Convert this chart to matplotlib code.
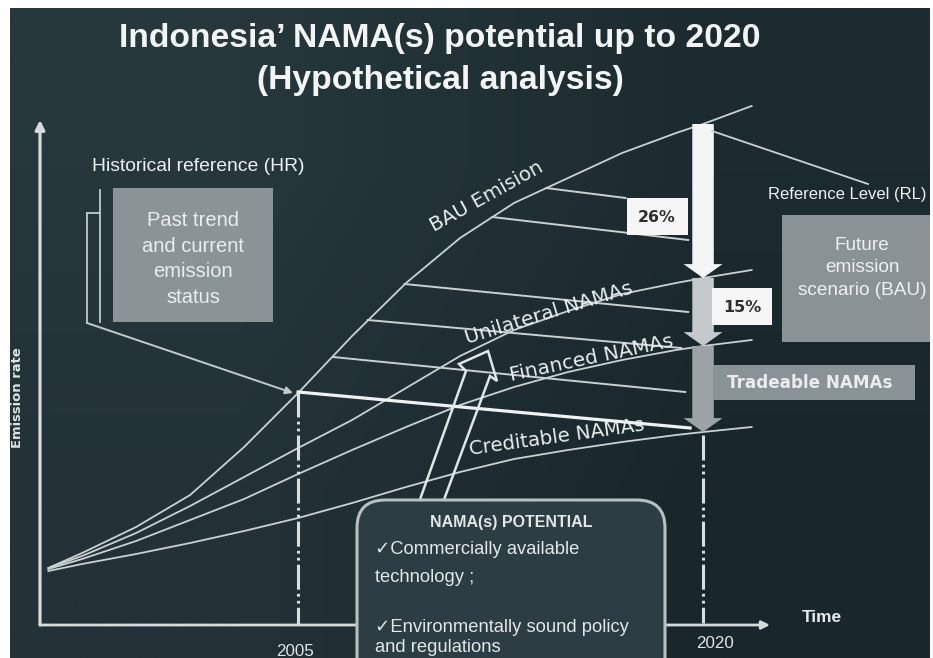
import matplotlib
matplotlib.use("Agg")
import matplotlib.pyplot as plt
import numpy as np
from matplotlib.patches import Rectangle, FancyBboxPatch, Polygon
from matplotlib import font_manager

# ---------------- data ----------------
years = [1995.75, 1997, 1999, 2001, 2003, 2005, 2007, 2009, 2011, 2013, 2015, 2017, 2019, 2020, 2021.8]
bau_emission = [11.4, 14.4, 19.6, 26.0, 35.6, 46.4, 57.8, 68.4, 77.4, 84.4, 89.4, 94.4, 98.4, 100.2, 103.8]
unilateral_namas = [11.4, 13.8, 18.4, 23.8, 29.6, 35.4, 41.0, 47.4, 53.8, 59.0, 62.8, 66.2, 68.4, 69.4, 71.0]
financed_namas = [11.2, 13.2, 16.8, 21.0, 25.2, 30.2, 35.0, 39.6, 44.0, 47.6, 50.6, 53.0, 55.0, 55.8, 57.0]
creditable_namas = [10.8, 12.2, 14.2, 16.4, 18.8, 21.4, 24.4, 27.6, 30.6, 33.2, 35.0, 36.6, 38.0, 38.6, 39.6]
curve_labels = ["BAU Emision", "Unilateral NAMAs", "Financed NAMAs", "Creditable NAMAs"]

# thin "fan" lines from the BAU curve towards the 2020 arrow
fan_start_year = [2014.18, 2012.19, 2008.94, 2007.58, 2006.29]
fan_start_em = [87.4, 81.6, 68.2, 61.0, 53.6]
fan_end_year = [2017.13, 2019.45, 2019.45, 2019.19, 2019.34]
fan_end_em = [85.4, 77.0, 62.6, 55.4, 46.6]
# line from the 2005 level to the 2020 target
hr_line_year = [2005, 2019.52]
hr_line_em = [46.6, 39.4]

reduction_labels = ["26%", "15%"]
tick_years = [2005, 2020]
tick_labels = ["2005", "2020"]
target_year = 2020

# ---------------- fonts ----------------
names = {f.name for f in font_manager.fontManager.ttflist}
NARROW = ["Liberation Sans Narrow", "Liberation Sans", "DejaVu Sans"] if "Liberation Sans Narrow" in names \
    else ["Liberation Sans", "DejaVu Sans"]
SANS = ["Liberation Sans", "DejaVu Sans"]
VERD = ["DejaVu Sans"]
plt.rcParams["lines.scale_dashes"] = False

W, H = 933, 658
fig = plt.figure(figsize=(W / 100, H / 100), dpi=100)
fig.patch.set_facecolor("white")


def fit(t, width_px):
    r = fig.canvas.get_renderer()
    rot = t.get_rotation()
    t.set_rotation(0)
    w = t.get_window_extent(renderer=r).width
    t.set_fontsize(t.get_fontsize() * width_px / w)
    t.set_rotation(rot)
    return t.get_fontsize()


# ---------------- background ----------------
bg = fig.add_axes([0, 0, 1, 1], zorder=0)
grad = np.array([[[38, 56, 60], [28, 43, 47]],
                 [[34, 50, 55], [25, 39, 43]]]) / 255.0
bg.imshow(grad, extent=(10, 930, 658, 8), interpolation="bilinear", aspect="auto")
bg.set_xlim(0, W)
bg.set_ylim(H, 0)
bg.axis("off")

# ---------------- chart axes ----------------
x0, x1, y0, y1 = 40, 770, 625, 120
ax = fig.add_axes([x0 / W, (H - y0) / H, (x1 - x0) / W, (y0 - y1) / H], zorder=1)
ax.set_xlim(1995.44, 2022.48)
ax.set_ylim(0, 101)
ax.axis("off")

lc = "#c9d1d2"
for vals in [bau_emission, unilateral_namas, financed_namas, creditable_namas]:
    ax.plot(years, vals, color=lc, lw=1.3, clip_on=False, zorder=2,
            solid_joinstyle="round", antialiased=True)

for i in range(len(fan_start_year)):
    ax.plot([fan_start_year[i], fan_end_year[i]], [fan_start_em[i], fan_end_em[i]],
            color=lc, lw=1.4, clip_on=False, zorder=2)

ax.plot(hr_line_year, hr_line_em, color="#eef2f2", lw=2.3, clip_on=False, zorder=3)

dash = (18, 3, 2, 3, 2, 3)
ax.plot([2005, 2005], [hr_line_em[0], 0.3], color="#d9dfdf", lw=2.2, dashes=dash, zorder=3)
ax.plot([2020, 2020], [38.0, 0.5], color="#d9dfdf", lw=2.2, dashes=dash, zorder=3)

axis_col = "#d3dbdb"
ax.annotate("", xy=(0, 1), xytext=(0, 0), xycoords="axes fraction",
            arrowprops=dict(arrowstyle="-|>", color=axis_col, lw=2.3, mutation_scale=14,
                            shrinkA=0, shrinkB=0), annotation_clip=False)
ax.annotate("", xy=(1, 0), xytext=(0, 0), xycoords="axes fraction",
            arrowprops=dict(arrowstyle="-|>", color=axis_col, lw=2.0, mutation_scale=12,
                            shrinkA=0, shrinkB=0), annotation_clip=False)

# big reduction arrow at 2020
idx = years.index(target_year)
levels = [bau_emission[idx], unilateral_namas[idx], financed_namas[idx], creditable_namas[idx]]
seg_colors = ["#f4f5f5", "#c3c9ca", "#9ba3a5"]
for i in reversed(range(3)):
    ax.annotate("", xy=(target_year, levels[i + 1]), xytext=(target_year, levels[i]),
                arrowprops=dict(arrowstyle="simple,head_length=1.0,head_width=2.8,tail_width=1.55",
                                mutation_scale=10, fc=seg_colors[i], ec="none",
                                shrinkA=0, shrinkB=0),
                zorder=6, annotation_clip=False)

tick_offsets = [(-3, -27), (12, -18)]
for yr, lab, off in zip(tick_years, tick_labels, tick_offsets):
    t = ax.annotate(lab, xy=(yr, 0), xytext=off, textcoords="offset pixels",
                    ha="center", va="center", color="#dfe4e4", family=SANS, fontsize=11,
                    annotation_clip=False)
    fit(t, 38)

# ---------------- overlay (boxes & texts) ----------------
ov = fig.add_axes([0, 0, 1, 1], zorder=2)
ov.set_xlim(0, W)
ov.set_ylim(H, 0)
ov.axis("off")

txt = "#eef1f1"
t1 = ov.text(440, 47, "Indonesia\u2019 NAMA(s) potential up to 2020", ha="center", va="baseline",
             fontweight="bold", family=NARROW, color="#f3f5f5", fontsize=24)
fs = fit(t1, 644)
ov.text(440, 89, "(Hypothetical analysis)", ha="center", va="baseline",
        fontweight="bold", family=NARROW, color="#f3f5f5", fontsize=fs)

# Historical reference
t = ov.text(92, 171, "Historical reference (HR)", ha="left", va="baseline",
            family=SANS, color=txt, fontsize=12)
fit(t, 213)
ov.add_patch(Rectangle((113, 188), 160, 134, fc="#8a9497", ec="none"))
t = ov.text(193, 259, "Past trend\nand current\nemission\nstatus", ha="center", va="center",
            family=SANS, color="#e9eded", fontsize=14, linespacing=1.45)
fit(t, 103)
bl = "#c2caca"
ov.plot([100, 100], [190, 322], color=bl, lw=1.3)
ov.plot([87, 100], [213, 213], color=bl, lw=1.3)
ov.plot([87, 87], [213, 323], color=bl, lw=1.3)
ov.annotate("", xy=(293, 393), xytext=(87, 323),
            arrowprops=dict(arrowstyle="-|>", color=bl, lw=1.4, mutation_scale=11,
                            shrinkA=0, shrinkB=0))

# Reference level
ov.plot([712, 868], [131, 184], color=lc, lw=1.3)
t = ov.text(768, 199, "Reference Level (RL)", ha="left", va="baseline", family=SANS,
            color=txt, fontsize=12)
fit(t, 158)
ov.add_patch(Rectangle((782, 215), 150, 127, fc="#899396", ec="none"))
t = ov.text(862, 268, "Future\nemission\nscenario (BAU)", ha="center", va="center",
            family=SANS, color="#eef1f1", fontsize=14, linespacing=1.45)
fit(t, 130)

ov.add_patch(Rectangle((713, 365), 202, 35, fc="#899294", ec="none"))
t = ov.text(810, 383, "Tradeable NAMAs", ha="center", va="center", family=VERD,
            fontweight="bold", color="#e9eded", fontsize=11)
fit(t, 165)

# percentage boxes
ov.add_patch(Rectangle((627, 198), 61, 37, fc="#f6f6f6", ec="none", zorder=3))
ov.add_patch(Rectangle((712, 288), 60, 37, fc="#f6f6f6", ec="none", zorder=3))
for lab, (cx, cy) in zip(reduction_labels, [(657, 217), (742, 307)]):
    t = ov.text(cx, cy, lab, ha="center", va="center", family=VERD, fontweight="bold",
                color="#2e2e2e", fontsize=11, zorder=4)
    fit(t, 38)

# curve labels
label_pos = [(487, 197, 29, 126), (549, 313, 17, 174), (591, 358, 12, 166), (557, 437, 8, 177)]
for lab, (cx, cy, rot, wpx) in zip(curve_labels, label_pos):
    t = ov.text(cx, cy, lab, ha="center", va="center", rotation=rot, rotation_mode="anchor",
                family=VERD, color="#e8eded", fontsize=12)
    fit(t, wpx)

# hollow arrow from the NAMA box
arr = [(418, 505), (466, 371), (459, 364), (488, 351), (497, 381), (490, 376), (442, 505)]
ov.add_patch(Polygon(arr, closed=False, fill=False, ec="#e0e6e6", lw=1.8, joinstyle="miter"))

# NAMA potential box
ov.add_patch(FancyBboxPatch((357, 500), 308, 220, boxstyle="round,pad=0,rounding_size=28",
                            fc="#2c3d43", ec="#b7bfbf", lw=2.2, zorder=5))
t = ov.text(511, 523, "NAMA(s) POTENTIAL", ha="center", va="center", family=SANS,
            fontweight="bold", color="#e2e7e7", fontsize=11, zorder=6)
fit(t, 162)
t = ov.text(375, 628, "\u2713Environmentally sound policy", ha="left", va="center",
            family=SANS, color="#e2e7e7", fontsize=12, zorder=6)
fs = fit(t, 255)
ov.text(375, 550, "\u2713Commercially available", ha="left", va="center", family=SANS,
        color="#e2e7e7", fontsize=fs, zorder=6)
ov.text(375, 577, "technology ;", ha="left", va="center", family=SANS,
        color="#e2e7e7", fontsize=fs, zorder=6)
ov.text(375, 648, "and regulations", ha="left", va="center", family=SANS,
        color="#e2e7e7", fontsize=fs, zorder=6)

# axis titles
t = ov.text(18, 398, "Emission rate", ha="center", va="center", rotation=90, family=VERD,
            fontweight="bold", color="#dfe5e5", fontsize=9)
fit(t, 100)
t = ov.text(822, 617, "Time", ha="center", va="center", family=SANS, fontweight="bold",
            color="#e6eaea", fontsize=11)
fit(t, 40)

# white picture edges
for (ex, ey, ew, eh) in [(0, 0, 10, H), (0, 0, W, 8), (930, 0, 3, H)]:
    ov.add_patch(Rectangle((ex, ey), ew, eh, fc="white", ec="none", zorder=50))

fig.savefig("out.png", dpi=100, facecolor="white")
